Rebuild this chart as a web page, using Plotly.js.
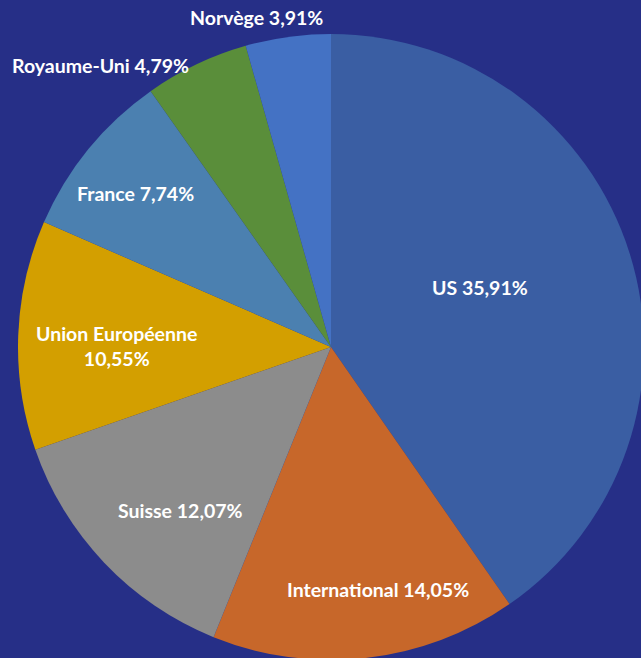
<!DOCTYPE html>
<html>
<head>
<meta charset="utf-8">
<script src="https://cdn.plot.ly/plotly-3.0.1.min.js"></script>
<style>
html,body{margin:0;padding:0;overflow:hidden;background:#262f87;}
#chart{width:660px;height:660px;}
</style>
</head>
<body>
<div id="chart"></div>
<script>
const categories = ["US", "International", "Suisse", "Union Européenne", "France", "Royaume-Uni", "Norvège"];
const values = [35.91, 14.05, 12.07, 10.55, 7.74, 4.79, 3.91];
const valueLabels = ["35,91%", "14,05%", "12,07%", "10,55%", "7,74%", "4,79%", "3,91%"];
const colors = ["#3a5ea3", "#c7672a", "#8c8c8c", "#d39f00", "#4b80b0", "#5a8e3a", "#4472c4"];

const texts = categories.map((c, i) => c === "Union Européenne" ? c + "<br>" + valueLabels[i] : c + " " + valueLabels[i]);

const W = 660, H = 660;
// label anchor points in page pixels (layout only)
const labelPx = [[480, 287], [378, 589], [180, 510], [116, 346], [135, 193], [101, 66], [256, 18]];

const font = {family: "Lato, 'Open Sans', sans-serif", size: 19.5, color: "#ffffff", weight: "bold"};

const trace = {
  type: "pie",
  labels: categories,
  values: values,
  textinfo: "none",
  sort: false,
  direction: "clockwise",
  rotation: 0,
  marker: {colors: colors, line: {width: 0}},
  domain: {x: [18 / W, 644 / W], y: [0, 626 / H]},
  hoverinfo: "none"
};
const annotations = texts.map((t, i) => ({
  text: t,
  xref: "paper", yref: "paper",
  x: labelPx[i][0] / W,
  y: 1 - labelPx[i][1] / H,
  xanchor: "center", yanchor: "middle",
  showarrow: false,
  align: "center",
  font: font
}));
const layout = {
  width: W,
  height: H,
  margin: {l: 0, r: 0, t: 0, b: 0},
  paper_bgcolor: "#262f87",
  plot_bgcolor: "#262f87",
  showlegend: false,
  annotations: annotations
};
Plotly.newPlot("chart", [trace], layout, {staticPlot: true});
</script>
</body>
</html>
